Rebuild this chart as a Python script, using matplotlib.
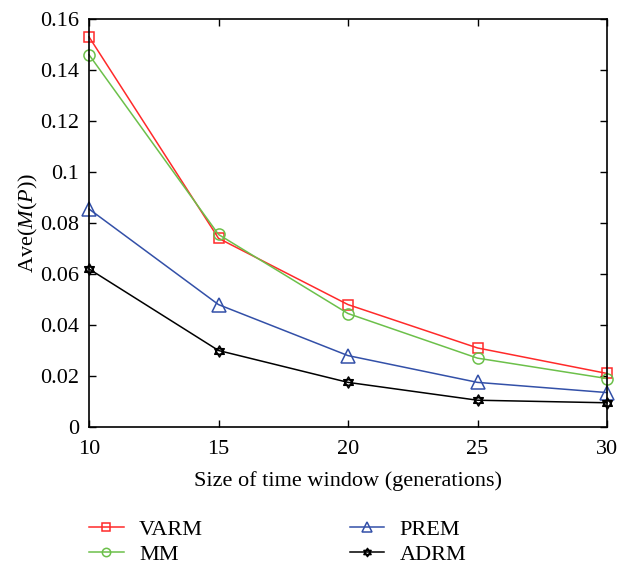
import numpy as np
import matplotlib.pyplot as plt
from matplotlib.path import Path

plt.rcParams['font.family'] = ['Liberation Serif', 'DejaVu Serif']
plt.rcParams['mathtext.fontset'] = 'custom'
plt.rcParams['mathtext.it'] = 'Liberation Serif:italic'
plt.rcParams['mathtext.rm'] = 'Liberation Serif'

# === data ===
window = [10, 15, 20, 25, 30]
varm = [0.153, 0.074, 0.048, 0.031, 0.021]
mm = [0.146, 0.0755, 0.0445, 0.027, 0.019]
prem = [0.0855, 0.048, 0.028, 0.0175, 0.0135]
adrm = [0.062, 0.030, 0.0175, 0.0105, 0.0095]
yticks = [0, 0.02, 0.04, 0.06, 0.08, 0.1, 0.12, 0.14, 0.16]
ytick_labels = ['0', '0.02', '0.04', '0.06', '0.08', '0.1', '0.12', '0.14', '0.16']

# hexagram marker (two triangles)
ang_up = np.pi / 2 + np.array([0, 2, 4]) * np.pi / 3
ang_dn = -np.pi / 2 + np.array([0, 2, 4]) * np.pi / 3
verts = []
codes = []
for a in (ang_up, ang_dn):
    pts = np.column_stack([np.cos(a), np.sin(a)])
    verts += list(pts) + [pts[0]]
    codes += [Path.MOVETO, Path.LINETO, Path.LINETO, Path.CLOSEPOLY]
hexagram = Path(verts, codes)

fig = plt.figure(figsize=(6.28, 5.67), dpi=100)
ax = fig.add_axes([89 / 628, 1 - 427 / 567, 518 / 628, 408 / 567])

ax.plot(window, varm, '-', color='#ff2a2a', marker='s', ms=7, mfc='none', mew=1.1, lw=1.1, label='VARM', clip_on=False)
ax.plot(window, mm, '-', color='#6cc04a', marker='o', ms=8, mfc='none', mew=1.1, lw=1.1, label='MM', clip_on=False)
ax.plot(window, prem, '-', color='#3350a8', marker='^', ms=9.5, mfc='none', mew=1.1, lw=1.1, label='PREM', clip_on=False)
ax.plot(window, adrm, '-', color='black', marker=hexagram, ms=8, mfc='none', mew=1.1, lw=1.1, label='ADRM', clip_on=False)

ax.set_xlim(10, 30)
ax.set_ylim(0, 0.16)
ax.set_xticks(window)
ax.set_yticks(yticks)
ax.set_yticklabels(ytick_labels)
ax.tick_params(direction='in', top=True, right=True, labelsize=16, length=5, width=1)
ax.tick_params(axis='x', pad=9)
ax.tick_params(axis='y', pad=7)
for s in ax.spines.values():
    s.set_linewidth(1.2)

ax.set_xlabel('Size of time window (generations)', fontsize=16, labelpad=9)
ax.set_ylabel(r'Ave($M$($P$))', fontsize=16, labelpad=0)

fig.legend(loc='upper left', bbox_to_anchor=(78 / 628, 1 - 508 / 567), ncol=2, frameon=False,
           fontsize=16, handlelength=1.55, columnspacing=6.6, labelspacing=0.2,
           handletextpad=0.7, borderpad=0, markerscale=0.75)

plt.savefig('out.png', dpi=100)
